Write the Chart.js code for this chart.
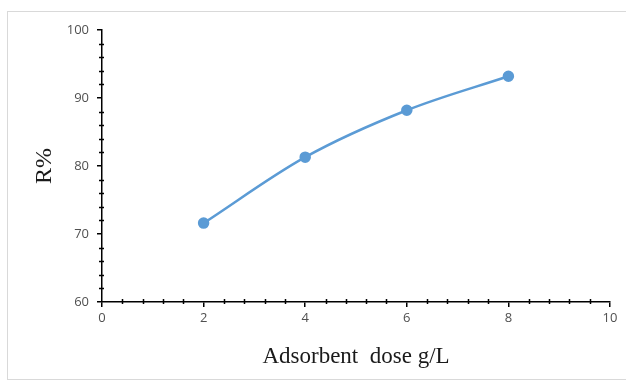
<!DOCTYPE html>
<html>
<head>
<meta charset="utf-8">
<script src="https://cdn.jsdelivr.net/npm/chart.js@4/dist/chart.umd.min.js"></script>
<style>
  html, body { margin: 0; padding: 0; background: #fff; }
  #wrap { position: relative; width: 626px; height: 383px; }
  #frame { position: absolute; left: 7px; top: 11px; width: 640px; height: 369px; border: 1px solid #d9d9d9; box-sizing: border-box; }
  canvas { position: absolute; left: 0; top: 0; }
</style>
</head>
<body>
<div id="wrap">
  <div id="frame"></div>
  <canvas id="c" width="626" height="383"></canvas>
</div>
<script>
const doses = [2, 4, 6, 8];
const removal = [71.6, 81.3, 88.2, 93.2];
const xTicks = [0, 2, 4, 6, 8, 10];
const yTicks = [60, 70, 80, 90, 100];
const xTitle = 'Adsorbent  dose g/L';
const yTitle = 'R%';

const minorTicks = {
  id: 'minorTicks',
  afterDraw(chart) {
    const ctx = chart.ctx;
    const xs = chart.scales.x, ys = chart.scales.y;
    const ca = chart.chartArea;
    ctx.save();
    ctx.strokeStyle = '#000';
    ctx.lineWidth = 1.5;
    ctx.beginPath();
    for (let k = 0; k <= 25; k++) {
      const v = k * 0.4;
      if (k % 5 === 0) continue;
      const px = Math.round(xs.getPixelForValue(v)) + 0.5;
      ctx.moveTo(px, ca.bottom - 3);
      ctx.lineTo(px, ca.bottom + 2);
    }
    for (let k = 0; k <= 20; k++) {
      const v = 60 + k * 2;
      if (k % 5 === 0) continue;
      const py = Math.round(ys.getPixelForValue(v)) + 0.5;
      ctx.moveTo(ca.left - 3, py);
      ctx.lineTo(ca.left + 2, py);
    }
    ctx.stroke();
    ctx.restore();
  }
};

new Chart(document.getElementById('c'), {
  type: 'line',
  data: {
    datasets: [{
      data: doses.map((d, i) => ({ x: d, y: removal[i] })),
      borderColor: '#5B9BD5',
      backgroundColor: '#5B9BD5',
      borderWidth: 2.5,
      pointRadius: 4.5,
      pointHoverRadius: 4.5,
      tension: 0.3,
      cubicInterpolationMode: 'monotone'
    }]
  },
  options: {
    responsive: false,
    animation: false,
    events: [],
    layout: { padding: { left: 0, top: 30, right: 16, bottom: 0 } },
    plugins: { legend: { display: false }, tooltip: { enabled: false } },
    scales: {
      x: {
        type: 'linear',
        min: 0, max: 10,
        afterBuildTicks(s) { s.ticks = xTicks.map(v => ({ value: v })); },
        afterFit(s) { s.height = 81; },
        border: { color: '#000', width: 1.5 },
        grid: { drawOnChartArea: false, color: '#000', lineWidth: 1.5, tickLength: 5 },
        ticks: { color: '#505050', font: { family: 'Open Sans', size: 13 }, padding: 3, maxRotation: 0 },
        title: { display: true, text: xTitle, color: '#1a1a1a', font: { family: 'Liberation Serif', size: 23 }, padding: { top: 0, bottom: 12 } }
      },
      y: {
        type: 'linear',
        min: 60, max: 100,
        afterBuildTicks(s) { s.ticks = yTicks.map(v => ({ value: v })); },
        afterFit(s) { s.width = 102; },
        border: { color: '#000', width: 1.5 },
        grid: { drawOnChartArea: false, color: '#000', lineWidth: 1.5, tickLength: 5 },
        ticks: { color: '#505050', font: { family: 'Open Sans', size: 13 }, padding: 8 },
        title: { display: true, text: yTitle, color: '#1a1a1a', font: { family: 'Liberation Serif', size: 24 }, padding: { top: 30, bottom: 0 } }
      }
    }
  },
  plugins: [minorTicks]
});
</script>
</body>
</html>
